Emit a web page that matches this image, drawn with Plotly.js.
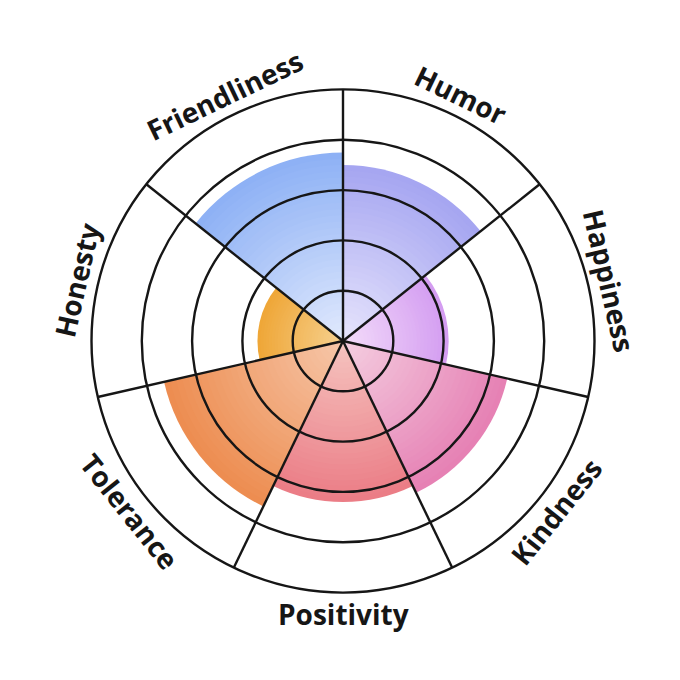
<!DOCTYPE html>
<html><head><meta charset="utf-8">
<script src="https://cdn.plot.ly/plotly-3.0.1.min.js"></script>
<style>html,body{margin:0;padding:0;background:#fff}#chart{width:680px;height:680px}</style>
</head><body><div id="chart"></div>
<script>
// ---- data ----
const categories = ['Humor', 'Happiness', 'Kindness', 'Positivity', 'Tolerance', 'Honesty', 'Friendliness'];
const scores = [7.0, 4.2, 6.7, 6.4, 7.3, 3.4, 7.5];
const outerColors = ['#a6a6f1', '#d49df1', '#e681b4', '#eb7d86', '#ed8d51', '#efa738', '#8eb1f5'];
const innerColors = ['#e6e4fc', '#f3dcfa', '#f4cde0', '#f5c3bf', '#f6c6a8', '#f6d08e', '#e0e9fd'];
const radialTickVals = [0, 2, 4, 6, 8, 10];

// ---- geometry / style ----
const W = 680, H = 680;
const cx = 343, cy = 341, R = 251.5;
const dom = {x: [(cx - R) / W, (cx + R) / W], y: [(H - cy - R) / H, (H - cy + R) / H]};
const step = 360 / categories.length;
const rot = 90 - step / 2;
const ink = '#161616';

function hex(c){return [1,3,5].map(i=>parseInt(c.slice(i,i+2),16));}
function mix(a,b,t){const A=hex(a),B=hex(b);return 'rgb('+A.map((v,i)=>Math.round(v+(B[i]-v)*t)).join(',')+')';}

const LAYERS = 30;
const traces = [];
for (let k = 0; k < LAYERS; k++) {
  const f = 1 - k / LAYERS;
  const t = k / (LAYERS - 1);
  traces.push({
    type: 'barpolar', subplot: 'polar',
    r: scores.map(v => v * f), theta: categories,
    marker: {color: outerColors.map((c, i) => mix(c, innerColors[i], t)), line: {width: 0}},
    hoverinfo: 'skip', showlegend: false
  });
}
// helper so that the overlay grid subplot exists
traces.push({type: 'scatterpolar', subplot: 'polar2', r: [0], theta: [0], mode: 'markers',
  marker: {size: 1, opacity: 0}, hoverinfo: 'skip', showlegend: false});

const boundaries = categories.map((_, i) => i * step);

const annotations = categories.map((c, i) => {
  const a = (rot - i * step) * Math.PI / 180;
  const Rl = 273;
  const px = cx + Rl * Math.cos(a), py = cy - Rl * Math.sin(a);
  const deg = rot - i * step;
  const ang = Math.sin(a) >= 0 ? 90 - deg : -90 - deg;
  return {text: c, x: px / W, y: 1 - py / H, xref: 'paper', yref: 'paper',
    xanchor: 'center', yanchor: 'middle', showarrow: false, textangle: ang,
    font: {family: 'Open Sans', size: 28, weight: 700, color: ink}};
});

const layout = {
  width: W, height: H, margin: {l: 0, r: 0, t: 0, b: 0},
  paper_bgcolor: '#ffffff', showlegend: false,
  polar: {
    domain: dom, bgcolor: '#ffffff', bargap: 0, barmode: 'overlay', hole: 0,
    radialaxis: {range: [0, 10], visible: false, showgrid: false},
    angularaxis: {type: 'category', categoryarray: categories, rotation: rot, direction: 'clockwise',
      showgrid: false, showline: false, showticklabels: false, ticks: ''}
  },
  polar2: {
    domain: dom, bgcolor: 'rgba(0,0,0,0)',
    radialaxis: {range: [0, 10], tickvals: radialTickVals, showticklabels: false, ticks: '',
      showline: false, gridcolor: ink, gridwidth: 2.4},
    angularaxis: {type: 'linear', thetaunit: 'degrees', rotation: 90, direction: 'clockwise',
      tickvals: boundaries, showticklabels: false, ticks: '',
      showline: true, linecolor: ink, linewidth: 2.4, gridcolor: ink, gridwidth: 2.4}
  },
  annotations: annotations
};

Plotly.newPlot('chart', traces, layout, {displayModeBar: false, staticPlot: true});
</script>
</body></html>
